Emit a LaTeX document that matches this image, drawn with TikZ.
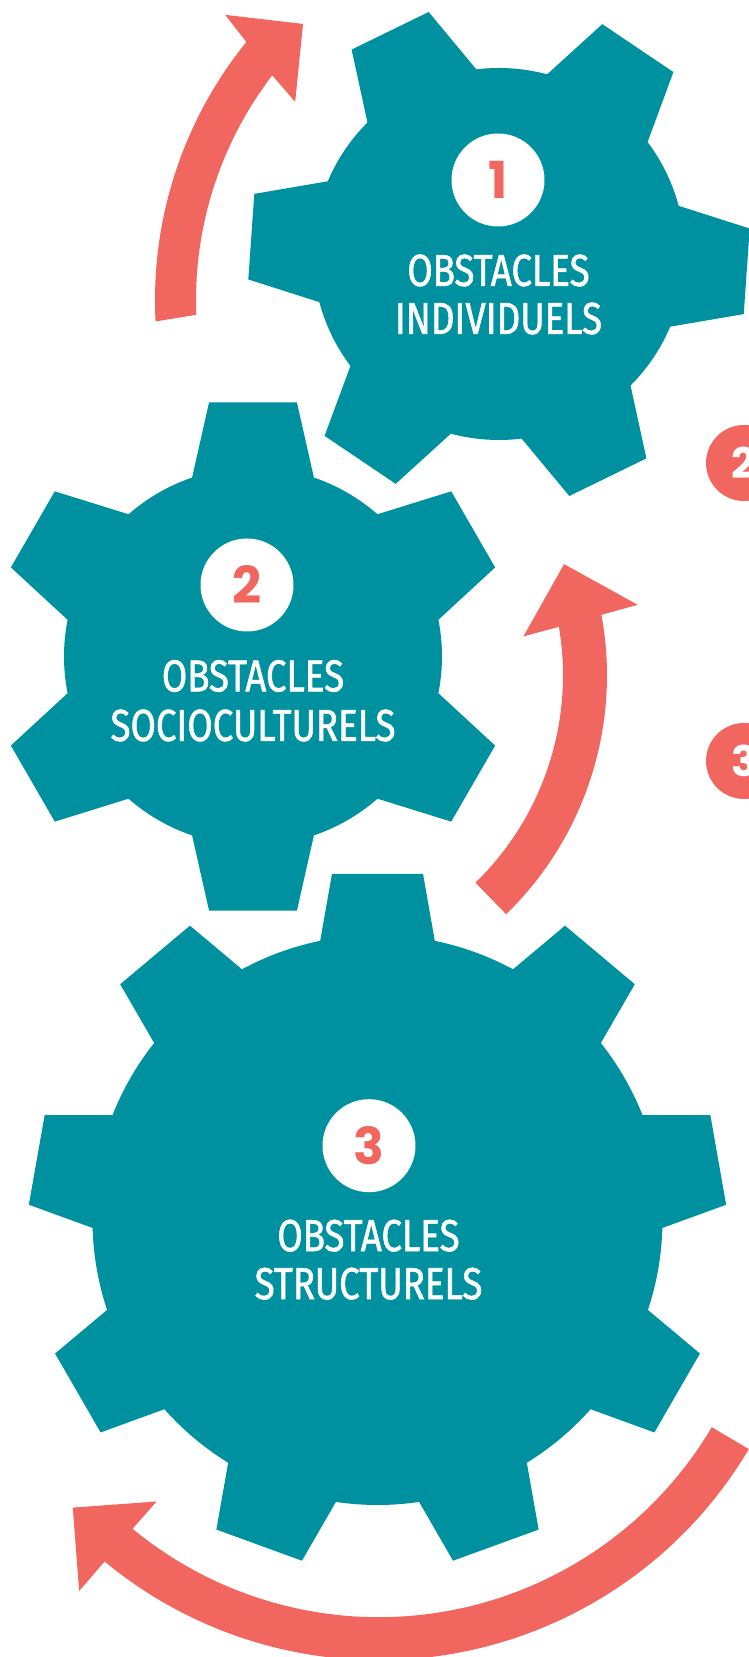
\documentclass[tikz,border=0pt]{standalone}
\usepackage{fontspec}
\newfontfamily\capfont[FakeStretch=0.82, FakeBold=1.2]{Fira Sans}
\newfontfamily\numfont{Poppins}
\usetikzlibrary{positioning}
\definecolor{gearteal}{RGB}{0,145,160}
\definecolor{coral}{RGB}{241,102,94}
\tikzset{
    on grid,
    gear/.style={fill=gearteal},
    bendarrow/.style={fill=coral},
    badge/.style={circle, fill=white, inner sep=0pt, minimum size=1.86cm,
        text=coral, font=\numfont\bfseries\fontsize{29}{29}\selectfont},
    edgebadge/.style={circle, fill=coral, inner sep=0pt, minimum size=1.52cm,
        text=white, font=\numfont\bfseries\fontsize{24}{24}\selectfont},
    caption/.style={text=white, inner sep=0pt,
        font=\capfont\fontsize{25.5}{28}\selectfont},
}

\begin{document}
\begin{tikzpicture}[x=0.02cm, y=0.02cm]
    \useasboundingbox (0,0) rectangle (749,1657);

    % gear centres
    \coordinate (g1) at (499,1403);
    \coordinate (g2) at (253,1000.5);
    \coordinate (g3) at (377.5,437);

    % gears
    \fill[gear, shift={(g1)}] (-23:186)
        \foreach \a in {-4,56,...,296} {
            -- (\a-9.8:252) -- (\a+9.8:252) -- (\a+19:186)
            arc[start angle=\a+19, end angle=\a+41, radius=186]
        } -- cycle;
    \fill[gear, shift={(g2)}] (11.2:189)
        \foreach \a in {30,90,...,330} {
            -- (\a-9.8:258) -- (\a+9.8:258) -- (\a+18.8:189)
            arc[start angle=\a+18.8, end angle=\a+41.2, radius=189]
        } -- cycle;
    \fill[gear, shift={(g3)}] (-1.6:285)
        \foreach \a in {10,50,...,330} {
            -- (\a-7.5:349) -- (\a+7.5:349) -- (\a+11.6:285)
            arc[start angle=\a+11.6, end angle=\a+28.4, radius=285]
        } -- cycle;

    % curved arrows
    \coordinate (a1) at (565,1357);
    \coordinate (a2) at (274,981.5);
    \coordinate (a3) at (378.7,426.8);
    \fill[bendarrow, shift={(a1)}] (183:410)
        arc[start angle=183, end angle=141, radius=410]
        -- (140:443.6) -- (133.5:380.6) -- (143.7:334.8) -- (142.5:369)
        arc[start angle=142.5, end angle=182.3, radius=369] -- cycle;
    \fill[bendarrow, shift={(a2)}] (-45.8:333)
        arc[start angle=-45.8, end angle=10.5, radius=333]
        -- (11:370.5) -- (21:310.7) -- (8.9:252.5) -- (9.7:289)
        arc[start angle=9.7, end angle=-45.8, radius=289] -- cycle;
    \fill[bendarrow, shift={(a3)}] (-30.6:430)
        arc[start angle=-30.6, end angle=-129.6, radius=430]
        -- (-129.7:469) -- (-137.8:413) -- (-129.3:350.6) -- (-129.5:387)
        arc[start angle=-129.5, end angle=-30.6, radius=387] -- cycle;

    % badges and captions
    \node[badge] (b1) at (498,1477) {1};
    \node[caption] (c1) at (498.5,1386.5) {OBSTACLES};
    \node[caption, below=0.96cm of c1] (c1b) {INDIVIDUELS};

    \node[badge] (b2) at (247,1072) {2};
    \node[caption] (c2) at (253,981) {OBSTACLES};
    \node[caption, below=0.99cm of c2] (c2b) {SOCIOCULTURELS};

    \node[badge] (b3) at (369,511.3) {3};
    \node[caption] (c3) at (368.5,421.3) {OBSTACLES};
    \node[caption, below=0.96cm of c3] (c3b) {STRUCTURELS};

    % cut badges at the right edge
    \node[edgebadge] (e2) at (744,1194) {2};
    \node[edgebadge] (e3) at (744,896) {3};
\end{tikzpicture}
\end{document}
